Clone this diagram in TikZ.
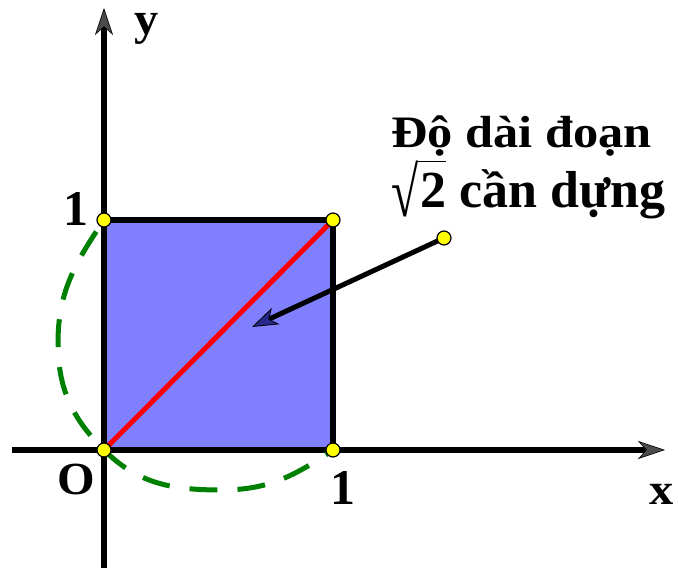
\documentclass[tikz,border=0pt]{standalone}
\usepackage{fontspec}
\setmainfont{Liberation Serif}
\usetikzlibrary{arrows.meta}
\definecolor{sqfill}{RGB}{128,128,255}
\definecolor{dgreen}{RGB}{0,128,0}
\definecolor{dotyellow}{RGB}{255,255,0}
\definecolor{tipblue}{RGB}{40,40,140}
\tikzset{
  axis/.style={line width=6pt,-{Stealth[length=27pt,width=18pt,inset=8pt,fill=black!70,line width=0.6pt]}},
  dotpt/.style={circle,draw=black,line width=1.2pt,fill=dotyellow,minimum size=14pt,inner sep=0pt},
  lbl/.style={inner sep=0pt},
}
\newcommand{\stretchtxt}[3]{\scalebox{#2}[1]{\fontsize{#1}{#1}\selectfont\bfseries #3}}
\newcommand{\myradical}{\raisebox{-9pt}{\scalebox{0.95}[1.35]{\mdseries √}}}
\begin{document}
\begin{tikzpicture}[x=1pt,y=1pt]
\useasboundingbox (0,0) rectangle (678,570);
\coordinate (O) at (104,120);
\coordinate (A) at (333,120);
\coordinate (B) at (333,350);
\coordinate (C) at (104,350);
\coordinate (P) at (444,332);
\coordinate (T) at (252,243);
\coordinate (L) at (58,227);
\coordinate (Bt) at (222,80);
\coordinate (xs) at (12,120);
\coordinate (xe) at (665,120);
\coordinate (ys) at (104,2);
\coordinate (ye) at (104,562);
% square
\fill[sqfill] (O) rectangle (B);
% axes
\draw[axis] (xs) -- (xe);
\draw[axis] (ys) -- (ye);
\draw[line width=6pt] (A) -- (B) -- (C);
% diagonal
\draw[red,line width=5pt] (O) -- (B);
% dashed arc
\draw[dgreen,line width=5pt,dash pattern=on 28pt off 20pt,dash phase=-14pt]
  (C) to[out=236,in=90] (L) to[out=270,in=135] (O) to[out=315,in=180] (Bt) to[out=0,in=214] (A);
% arrow
\draw[line width=5pt,-{Stealth[length=26pt,width=18pt,inset=7pt,fill=tipblue,line width=0.8pt]}] (P) -- (T);
% dots
\node[dotpt] (dO) at (O) {};
\node[dotpt] (dA) at (A) {};
\node[dotpt] (dB) at (B) {};
\node[dotpt] (dC) at (C) {};
\node[dotpt] (dP) at (P) {};
% labels
\node[lbl] (ly) at (146.5,541) {\stretchtxt{46}{1.05}{y}};
\node[lbl] (lx) at (661.5,76) {\stretchtxt{44}{1.1}{x}};
\node[lbl] (lO) at (76,91) {\stretchtxt{46}{1.05}{O}};
\node[lbl] (l1x) at (343,82) {\stretchtxt{50}{1}{1}};
\node[lbl] (l1y) at (76,361) {\stretchtxt{50}{1}{1}};
\node[lbl,anchor=base west] (t1) at (391,422) {\stretchtxt{45}{1.12}{Độ dài đoạn}};
\node[lbl,anchor=base west] (t2) at (391,362) {\fontsize{52}{52}\selectfont\bfseries\myradical\kern2pt\rlap{\kern-2pt\raisebox{46pt}{\rule{28pt}{1.4pt}}}2 cần dựng};
\end{tikzpicture}
\end{document}
